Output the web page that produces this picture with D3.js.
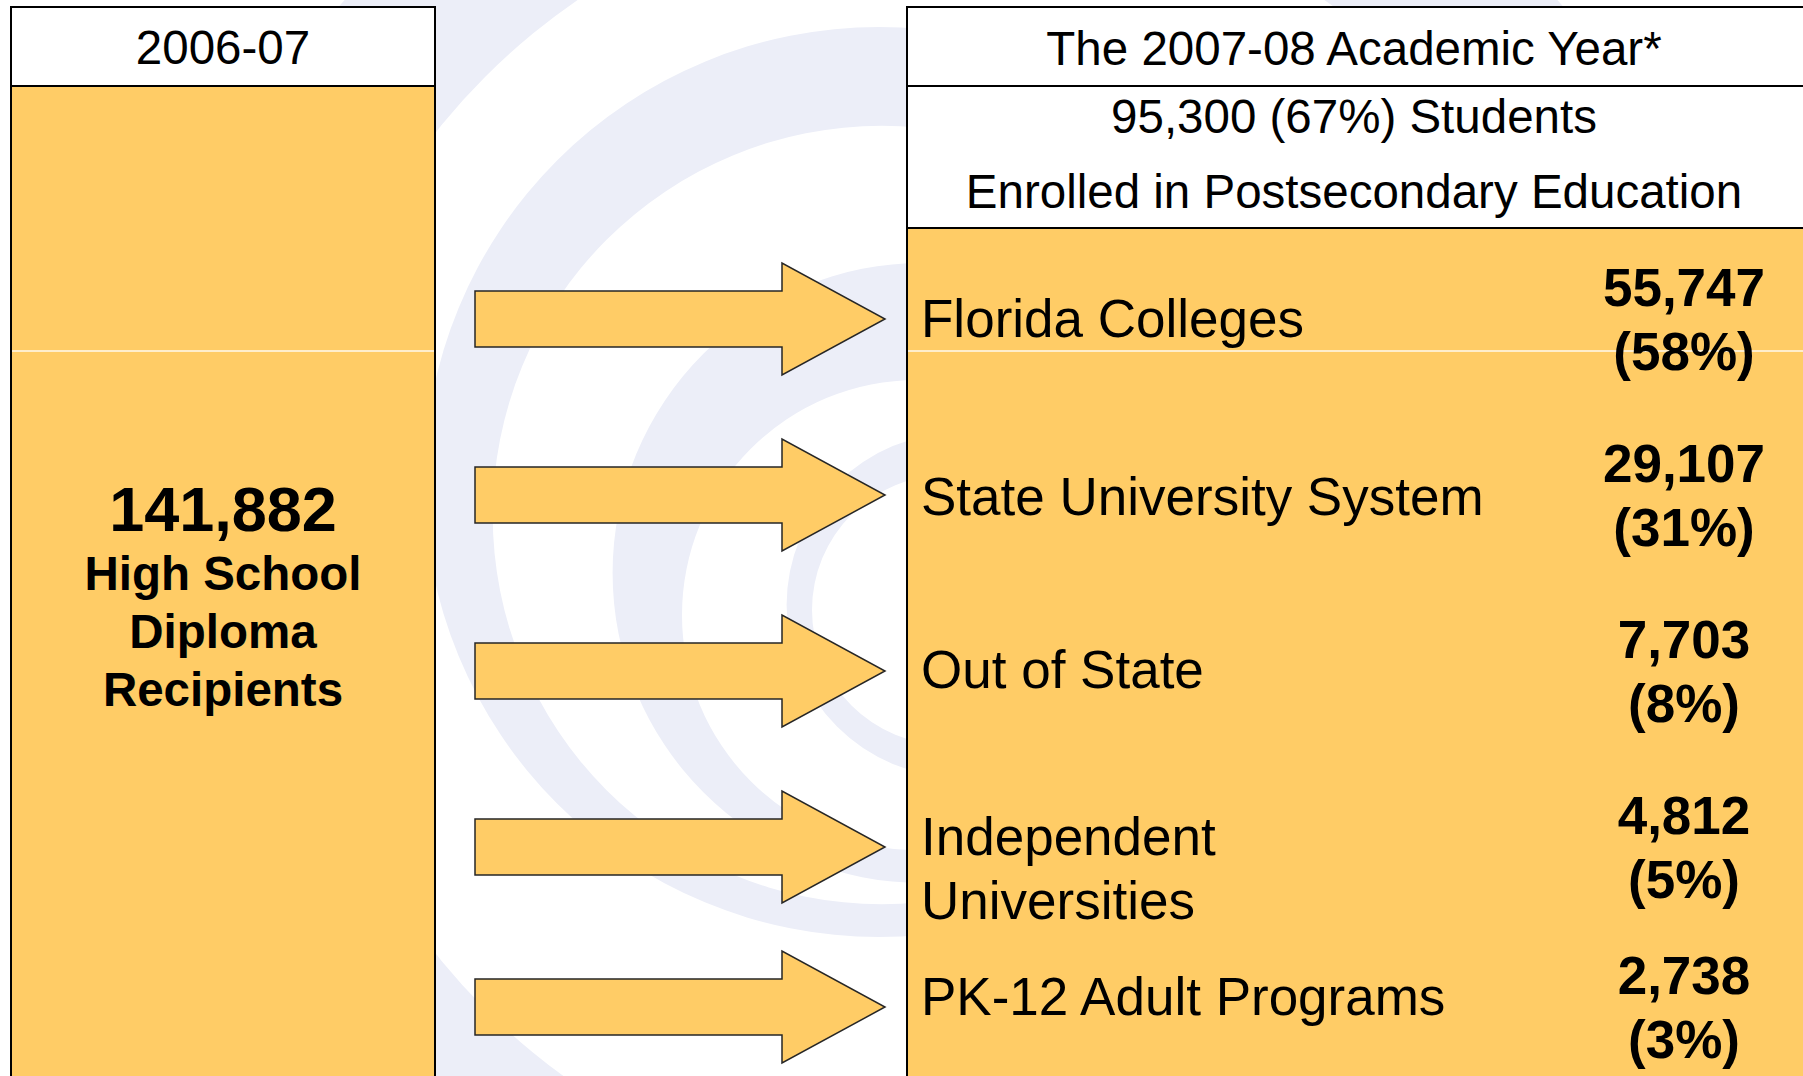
<!DOCTYPE html>
<html>
<head>
<meta charset="utf-8">
<script src="https://cdn.jsdelivr.net/npm/d3@7"></script>
<style>
  html, body { margin: 0; padding: 0; background: #ffffff; }
  svg { display: block; }
  text { font-family: "Liberation Sans", Arial, Helvetica, sans-serif; fill: #000; }
</style>
</head>
<body>
<svg id="chart" width="1803" height="1076"></svg>
<script>
// ---------------- data ----------------
const sourceYear = "2006-07";
const targetYear = "The 2007-08 Academic Year*";
const diplomaRecipients = 141882;
const sourceLabelLines = ["High School", "Diploma", "Recipients"];
const enrolledStudents = 95300;
const enrolledShare = 67;
const enrolledLabel = "Enrolled in Postsecondary Education";
const destinations = ["Florida Colleges", "State University System", "Out of State", "Independent Universities", "PK-12 Adult Programs"];
const destinationLines = [["Florida Colleges"], ["State University System"], ["Out of State"], ["Independent", "Universities"], ["PK-12 Adult Programs"]];
const destinationCounts = [55747, 29107, 7703, 4812, 2738];
const destinationShares = [58, 31, 8, 5, 3];

// ---------------- layout ----------------
const W = 1803, H = 1076;
const ORANGE = "#FFCC66", SWIRL = "#ECEEF8";
const svg = d3.select("#chart");
svg.append("rect").attr("width", W).attr("height", H).attr("fill", "#fff");

// decorative background swirl (crescent bands)
const circlePath = (cx, cy, r) => {
  const p = d3.path();
  p.moveTo(cx + r, cy);
  p.arc(cx, cy, r, 0, Math.PI * 2);
  p.closePath();
  return p.toString();
};
const bands = [
  { o: [951, 543, 814], i: [951, 543, 659] },
  { o: [879, 482, 455], i: [881.7, 515, 389] },
  { o: [922.6, 573, 310], i: [917, 615, 235] },
  { o: [958.6, 605, 172], i: [947, 610, 135] }
];
svg.append("g").selectAll("path").data(bands).join("path")
  .attr("d", d => circlePath(...d.o) + circlePath(...d.i))
  .attr("fill", SWIRL)
  .attr("fill-rule", "evenodd");

// boxes
const leftX = 11, leftW = 424, rightX = 907, rightW = 905;
const topY = 7, headH = 79, subBottom = 228;
const boxStroke = g => g.attr("stroke", "#000").attr("stroke-width", 2);

svg.append("rect").attr("x", leftX).attr("y", topY).attr("width", leftW).attr("height", H + 20).attr("fill", ORANGE).call(boxStroke);
svg.append("rect").attr("x", leftX).attr("y", topY).attr("width", leftW).attr("height", headH).attr("fill", "#fff").call(boxStroke);

svg.append("rect").attr("x", rightX).attr("y", topY).attr("width", rightW).attr("height", H + 20).attr("fill", ORANGE).call(boxStroke);
svg.append("rect").attr("x", rightX).attr("y", topY + headH).attr("width", rightW).attr("height", subBottom - topY - headH).attr("fill", "#fff").call(boxStroke);
svg.append("rect").attr("x", rightX).attr("y", topY).attr("width", rightW).attr("height", headH).attr("fill", "#fff").call(boxStroke);

// faint white seam across the orange areas
[[leftX + 1, leftX + leftW - 1], [rightX + 1, W]].forEach(([a, b]) => {
  svg.append("line").attr("x1", a).attr("x2", b).attr("y1", 351).attr("y2", 351)
    .attr("stroke", "#fff").attr("stroke-width", 1.5).attr("opacity", 0.9);
});

// header texts
const leftCX = leftX + leftW / 2, rightCX = 1354;
svg.append("text").attr("x", leftCX).attr("y", 64).attr("text-anchor", "middle")
  .attr("font-size", 47.5).text(sourceYear);
svg.append("text").attr("x", rightCX).attr("y", 65).attr("text-anchor", "middle")
  .attr("font-size", 47.5).text(targetYear);
const fmt = d3.format(",");
svg.append("text").attr("x", rightCX).attr("y", 133).attr("text-anchor", "middle")
  .attr("font-size", 47.5).text(`${fmt(enrolledStudents)} (${enrolledShare}%) Students`);
svg.append("text").attr("x", rightCX).attr("y", 208).attr("text-anchor", "middle")
  .attr("font-size", 47.5).text(enrolledLabel);

// left box text
svg.append("text").attr("x", leftCX).attr("y", 531).attr("text-anchor", "middle")
  .attr("font-size", 63).attr("font-weight", "bold").text(fmt(diplomaRecipients));
svg.append("g").selectAll("text").data(sourceLabelLines).join("text")
  .attr("x", leftCX)
  .attr("y", (d, i) => 590 + i * 58)
  .attr("text-anchor", "middle").attr("font-size", 47.5).attr("font-weight", "bold")
  .text(d => d);

// rows
const rowY = d3.scaleLinear().domain([0, 3, 4]).range([319, 847, 1007]);
const idx = d3.range(destinations.length);
const labelShift = [18, 20, 17, 8, 8];

const shaftX0 = 475, headX0 = 782, tipX = 885, shaftHalf = 28, headHalf = 56;
const arrowPath = cy => {
  const p = d3.path();
  p.moveTo(shaftX0, cy - shaftHalf);
  p.lineTo(headX0, cy - shaftHalf);
  p.lineTo(headX0, cy - headHalf);
  p.lineTo(tipX, cy);
  p.lineTo(headX0, cy + headHalf);
  p.lineTo(headX0, cy + shaftHalf);
  p.lineTo(shaftX0, cy + shaftHalf);
  p.closePath();
  return p.toString();
};
svg.append("g").selectAll("path").data(idx).join("path")
  .attr("d", i => arrowPath(rowY(i)))
  .attr("fill", ORANGE).attr("stroke", "#262626").attr("stroke-width", 1.5)
  .attr("stroke-linejoin", "miter");

// labels
const labelG = svg.append("g");
idx.forEach(i => {
  labelG.append("g").selectAll("text").data(destinationLines[i]).join("text")
    .attr("x", 921)
    .attr("y", (d, j) => rowY(i) + labelShift[i] + j * 64)
    .attr("font-size", 53)
    .text(d => d);
});

// values
const valueX = 1684;
const valG = svg.append("g");
valG.selectAll("text.count").data(idx).join("text").attr("class", "count")
  .attr("x", valueX).attr("y", i => rowY(i) - 13)
  .attr("text-anchor", "middle").attr("font-size", 53).attr("font-weight", "bold")
  .text(i => fmt(destinationCounts[i]));
valG.selectAll("text.share").data(idx).join("text").attr("class", "share")
  .attr("x", valueX).attr("y", i => rowY(i) + 51)
  .attr("text-anchor", "middle").attr("font-size", 53).attr("font-weight", "bold")
  .text(i => `(${destinationShares[i]}%)`);
</script>
</body>
</html>
